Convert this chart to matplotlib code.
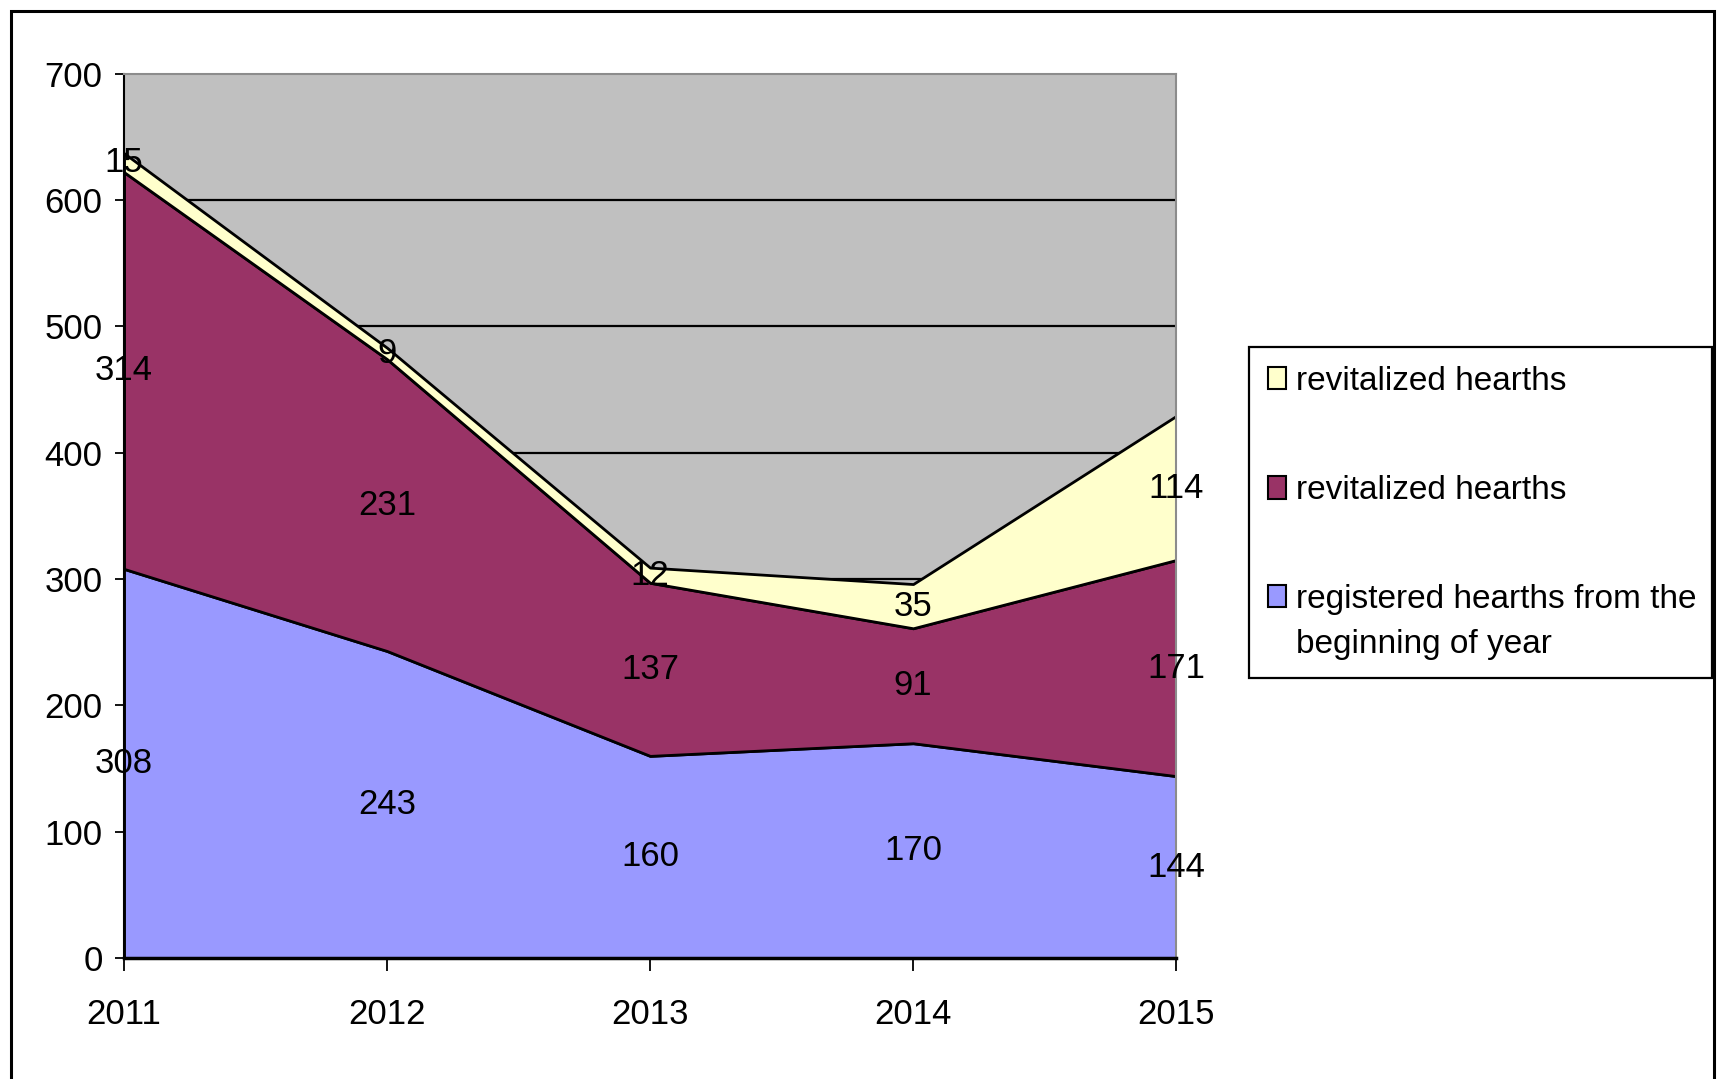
import matplotlib
matplotlib.use("Agg")
import matplotlib.pyplot as plt
from matplotlib.patches import Patch, Rectangle
from matplotlib.legend_handler import HandlerPatch

years = ["2011", "2012", "2013", "2014", "2015"]
registered = [308, 243, 160, 170, 144]
revitalized_red = [314, 231, 137, 91, 171]
revitalized_yellow = [15, 9, 12, 35, 114]

series = [registered, revitalized_red, revitalized_yellow]
series_labels = [
    "registered hearths from the\nbeginning of year",
    "revitalized hearths",
    "revitalized hearths",
]
colors = ["#9999FF", "#993366", "#FFFFCC"]
y_ticks = [0, 100, 200, 300, 400, 500, 600, 700]

FS = 25
LEG_FS = 24
plt.rcParams["font.family"] = ["Liberation Sans", "DejaVu Sans"]


class TopLineHandler(HandlerPatch):
    # put the swatch next to the first line of a two-line label
    def create_artists(self, legend, orig_handle, xdescent, ydescent,
                       width, height, fontsize, trans):
        arts = super().create_artists(legend, orig_handle, xdescent, ydescent,
                                      width, height, fontsize, trans)
        for a in arts:
            a.set_y(a.get_y() + 0.8 * fontsize)
        return arts


fig = plt.figure(figsize=(17.23, 10.79), dpi=100)
ax = fig.add_axes([0.0720, 0.1121, 0.6106, 0.8197])
ax.set_facecolor("#C0C0C0")

x = list(range(len(years)))
ax.stackplot(x, *series, colors=colors, edgecolor="black", linewidth=2, zorder=2)

ax.set_xlim(0, len(years) - 1)
ax.set_ylim(0, 700)
ax.set_xticks(x)
ax.set_xticklabels(years)
ax.set_yticks(y_ticks)

ax.yaxis.grid(True, color="black", linewidth=1.6)
ax.set_axisbelow(True)
gl = ax.yaxis.get_gridlines()
gl[0].set_visible(False)
gl[-1].set_visible(False)

ax.spines["left"].set_color("black")
ax.spines["left"].set_linewidth(1.5)
ax.spines["bottom"].set_color("black")
ax.spines["bottom"].set_linewidth(2.5)
for s in ["top", "right"]:
    ax.spines[s].set_color("#8C8C8C")
    ax.spines[s].set_linewidth(1.5)

ax.tick_params(axis="x", direction="out", length=9, width=1.3, pad=20, labelsize=FS)
ax.tick_params(axis="y", direction="out", length=6.5, width=1.3, pad=9, labelsize=FS)

# value labels in the middle of each band
for i in x:
    base = 0
    for vals in series:
        v = vals[i]
        ax.text(i, base + v / 2, str(v), ha="center", va="center",
                fontsize=FS, color="black", zorder=5, clip_on=False)
        base += v

handles = [Patch(facecolor=c, edgecolor="black", linewidth=1.5) for c in reversed(colors)]
leg = fig.legend(
    handles, list(reversed(series_labels)),
    loc="upper left", bbox_to_anchor=(0.725, 0.678, 0.2686, 0), mode="expand",
    fontsize=LEG_FS, frameon=True, fancybox=False, framealpha=1,
    handlelength=0.55, handleheight=0.65, handletextpad=0.3,
    labelspacing=2.35, borderpad=0.55, borderaxespad=0,
    handler_map={handles[-1]: TopLineHandler()},
)
leg.get_texts()[-1].set_linespacing(1.55)
leg.get_frame().set_edgecolor("black")
leg.get_frame().set_linewidth(1.6)

# outer chart border
border = Rectangle((11 / 1723, -0.05), (1714 - 11) / 1723, 1 - 11 / 1079 + 0.05,
                   transform=fig.transFigure, fill=False, edgecolor="black", linewidth=2.2)
fig.patches.append(border)

fig.savefig("out.png", dpi=100)
plt.close(fig)
